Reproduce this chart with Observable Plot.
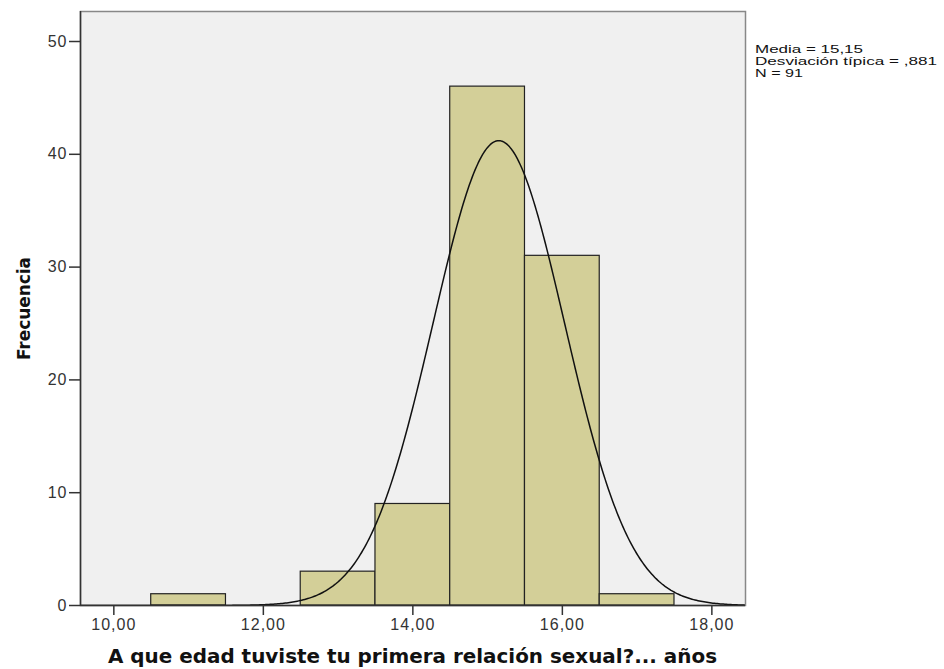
<!DOCTYPE html>
<html><head><meta charset="utf-8">
<script src="https://cdn.jsdelivr.net/npm/d3@7"></script>
<script src="https://cdn.jsdelivr.net/npm/@observablehq/plot@0.6"></script>
<style>body{margin:0;background:#fff}</style>
</head><body><div id="chart"></div>
<script>
// Histogram bins (age in years) and frequencies
const binStart = [10.5, 12.5, 13.5, 14.5, 15.5, 16.5];
const binEnd   = [11.5, 13.5, 14.5, 15.5, 16.5, 17.5];
const counts   = [1, 3, 9, 46, 31, 1];
const xTicks = [10, 12, 14, 16, 18];
const yTicks = [0, 10, 20, 30, 40, 50];
// Summary statistics shown in the legend (normal curve is drawn from these)
const statMean = 15.15;
const statSD = 0.881;
const statN = 91;
const statLines = ["Media = 15,15", "Desviación típica = ,881", "N = 91"];
const xTitle = "A que edad tuviste tu primera relación sexual?... años";
const yTitle = "Frecuencia";

const bins = binStart.map((s, i) => ({x1: s, x2: binEnd[i], y: counts[i]}));
const xDom = [9.554, 18.45];
const curve = d3.range(xDom[0], xDom[1] + 0.001, 0.02).map(x => ({
  x, y: statN * 1 / (statSD * Math.sqrt(2 * Math.PI)) * Math.exp(-0.5 * ((x - statMean) / statSD) ** 2)
}));

const W = 944, H = 669;
const chart = Plot.plot({
  width: W, height: H,
  marginLeft: 80, marginTop: 11, marginRight: 199, marginBottom: 64,
  style: {fontFamily: "'Liberation Sans', Arial, sans-serif", fontSize: "16px", color: "#333", background: "#fff"},
  x: {domain: xDom},
  y: {domain: [0, 52.66]},
  marks: [
    Plot.frame({fill: "#F0F0F0", stroke: "#888", strokeWidth: 1.5}),
    Plot.rectY(bins, {x1: "x1", x2: "x2", y1: 0, y2: "y", fill: "#D3CF98", stroke: "#222", strokeWidth: 1.2}),
    Plot.line(curve, {x: "x", y: "y", stroke: "#111", strokeWidth: 1.5, clip: true}),
    Plot.ruleX([xDom[0]], {stroke: "#333", strokeWidth: 1.5}),
    Plot.ruleY([0], {stroke: "#333", strokeWidth: 1.5}),
    Plot.axisY({ticks: yTicks, tickSize: 11, tickPadding: 2, label: null, fontSize: 16, tickFormat: d => String(d), stroke: "#333", strokeWidth: 1.5}),
    Plot.axisX({ticks: xTicks, tickSize: 10, tickPadding: 3, label: null, fontSize: 16, tickFormat: d => d.toFixed(2).replace(".", ","), stroke: "#333", strokeWidth: 1.5})
  ]
});
document.getElementById("chart").appendChild(chart);

const svg = d3.select(chart);
// widen tick labels to match the reference's wide rendering
svg.selectAll("text").style("letter-spacing", "1px");
svg.append("text")
  .attr("x", 412.5).attr("y", 663)
  .attr("text-anchor", "middle")
  .attr("textLength", 609).attr("lengthAdjust", "spacingAndGlyphs")
  .style("font-family", "'DejaVu Sans', Verdana, sans-serif")
  .style("font-weight", "bold").style("font-size", "19px").style("fill", "#111")
  .text(xTitle);
svg.append("text")
  .attr("transform", "translate(30,308.5) rotate(-90)")
  .attr("text-anchor", "middle")
  .attr("textLength", 103).attr("lengthAdjust", "spacingAndGlyphs")
  .style("font-family", "'DejaVu Sans Condensed', 'DejaVu Sans', sans-serif")
  .style("font-weight", "bold").style("font-size", "18px").style("fill", "#111")
  .text(yTitle);
const legLen = [108, 182, 48];
statLines.forEach((t, i) => {
  svg.append("text")
    .attr("x", 755).attr("y", 53 + i * 12)
    .attr("text-anchor", "start")
    .attr("textLength", legLen[i]).attr("lengthAdjust", "spacingAndGlyphs")
    .style("font-family", "'Liberation Sans', Arial, sans-serif")
    .style("font-size", "11px").style("fill", "#111")
    .text(t);
});
</script>
</body></html>
